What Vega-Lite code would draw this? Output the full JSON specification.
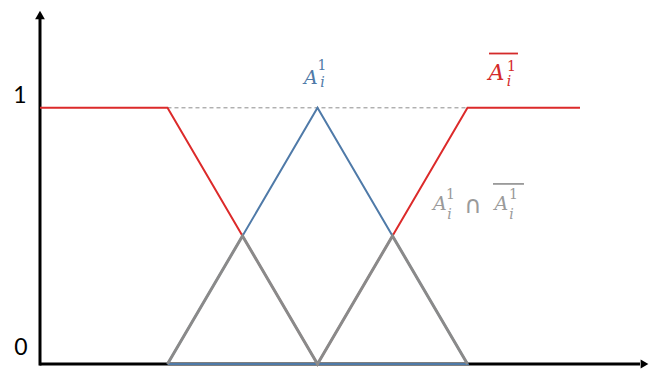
{
  "$schema": "https://vega.github.io/schema/vega-lite/v6.json",
  "width": 651,
  "height": 371,
  "autosize": {"type": "fit", "contains": "padding"},
  "padding": 0,
  "background": "white",
  "config": {"view": {"stroke": null}},
  "datasets": {
    "axes": [
      {"x": 0, "y": -0.006, "x2": 0, "y2": 1.35},
      {"x": -0.006, "y": 0, "x2": 8.0, "y2": 0}
    ],
    "arrows": [
      {"dir": "up", "x": 0, "y": 1.362},
      {"dir": "right", "x": 8.06, "y": 0}
    ],
    "ticks": [
      {"label": "1", "x": -0.267, "y": 1.046},
      {"label": "0", "x": -0.253, "y": 0.062}
    ],
    "membership": [
      {"set": "A", "o": 1, "x": 1.7, "y": 0},
      {"set": "A", "o": 2, "x": 3.7, "y": 1},
      {"set": "A", "o": 3, "x": 5.7, "y": 0},
      {"set": "A", "o": 4, "x": 1.7, "y": 0},
      {"set": "notA", "o": 1, "x": 0, "y": 1},
      {"set": "notA", "o": 2, "x": 1.7, "y": 1},
      {"set": "notA", "o": 3, "x": 3.7, "y": 0},
      {"set": "notA", "o": 4, "x": 5.7, "y": 1},
      {"set": "notA", "o": 5, "x": 7.2, "y": 1},
      {"set": "AnotA", "o": 1, "x": 1.7, "y": 0},
      {"set": "AnotA", "o": 2, "x": 2.7, "y": 0.5},
      {"set": "AnotA", "o": 3, "x": 3.7, "y": 0},
      {"set": "AnotA", "o": 4, "x": 4.7, "y": 0.5},
      {"set": "AnotA", "o": 5, "x": 5.7, "y": 0}
    ],
    "guide": [
      {"x": 1.7, "y": 1},
      {"x": 5.7, "y": 1}
    ],
    "bars": [
      {"set": "notA", "x": 5.987, "y": 1.212, "x2": 6.373, "y2": 1.212},
      {"set": "AnotA", "x": 6.04, "y": 0.703, "x2": 6.453, "y2": 0.703}
    ],
    "glyphs": [
      {"set": "A", "kind": "base", "label": "A", "x": 3.613, "y": 1.118},
      {"set": "A", "kind": "sup", "label": "1", "x": 3.76, "y": 1.162},
      {"set": "A", "kind": "sub", "label": "i", "x": 3.767, "y": 1.095},
      {"set": "notA", "kind": "bigbase", "label": "A", "x": 6.087, "y": 1.137},
      {"set": "notA", "kind": "sup", "label": "1", "x": 6.287, "y": 1.158},
      {"set": "notA", "kind": "sub", "label": "i", "x": 6.253, "y": 1.102},
      {"set": "AnotA", "kind": "base", "label": "A", "x": 5.333, "y": 0.624},
      {"set": "AnotA", "kind": "sup", "label": "1", "x": 5.473, "y": 0.658},
      {"set": "AnotA", "kind": "sub", "label": "i", "x": 5.46, "y": 0.583},
      {"set": "AnotA", "kind": "op", "label": "∩", "x": 5.773, "y": 0.618},
      {"set": "AnotA", "kind": "base", "label": "A", "x": 6.153, "y": 0.624},
      {"set": "AnotA", "kind": "sup", "label": "1", "x": 6.313, "y": 0.658},
      {"set": "AnotA", "kind": "sub", "label": "i", "x": 6.287, "y": 0.583}
    ]
  },
  "encoding": {
    "x": {"field": "x", "type": "quantitative", "axis": null,
          "scale": {"domain": [-0.5333, 8.1467], "nice": false, "zero": false}},
    "y": {"field": "y", "type": "quantitative", "axis": null,
          "scale": {"domain": [-0.01158, 1.42085], "nice": false, "zero": false}}
  },
  "layer": [
    {
      "data": {"name": "guide"},
      "mark": {"type": "line", "stroke": "#8c8c8c", "strokeWidth": 1, "strokeDash": [4, 3]},
      "encoding": {}
    },
    {
      "data": {"name": "axes"},
      "mark": {"type": "rule", "stroke": "black", "strokeWidth": 3},
      "encoding": {"x2": {"field": "x2"}, "y2": {"field": "y2"}}
    },
    {
      "data": {"name": "arrows"},
      "transform": [{"filter": "datum.dir === 'up'"}],
      "mark": {"type": "point", "shape": "triangle-up", "filled": true, "color": "black", "size": 95, "opacity": 1}
    },
    {
      "data": {"name": "arrows"},
      "transform": [{"filter": "datum.dir === 'right'"}],
      "mark": {"type": "point", "shape": "triangle-right", "filled": true, "color": "black", "size": 80, "opacity": 1}
    },
    {
      "data": {"name": "ticks"},
      "mark": {"type": "text", "font": "Lato", "size": 23, "color": "black", "align": "center", "baseline": "middle"},
      "encoding": {"text": {"field": "label"}}
    },
    {
      "data": {"name": "membership"},
      "transform": [{"filter": "datum.set === 'A'"}],
      "mark": {"type": "line", "stroke": "#4f7aa8", "strokeWidth": 2},
      "encoding": {"order": {"field": "o"}}
    },
    {
      "data": {"name": "membership"},
      "transform": [{"filter": "datum.set === 'notA'"}],
      "mark": {"type": "line", "stroke": "#dc2a2a", "strokeWidth": 2},
      "encoding": {"order": {"field": "o"}}
    },
    {
      "data": {"name": "membership"},
      "transform": [{"filter": "datum.set === 'AnotA'"}],
      "mark": {"type": "line", "stroke": "#8a8a8a", "strokeWidth": 3},
      "encoding": {"order": {"field": "o"}}
    },
    {
      "data": {"name": "bars"},
      "mark": {"type": "rule", "strokeWidth": 1.8},
      "encoding": {
        "x2": {"field": "x2"}, "y2": {"field": "y2"},
        "color": {"field": "set", "type": "nominal", "legend": null,
                  "scale": {"domain": ["A", "notA", "AnotA"], "range": ["#4f7aa8", "#d42a2a", "#9a9a9a"]}}
      }
    },
    {
      "data": {"name": "glyphs"},
      "transform": [{"filter": "datum.kind === 'base'"}],
      "mark": {"type": "text", "font": "DejaVu Serif", "fontStyle": "italic", "size": 19, "align": "center", "baseline": "middle"},
      "encoding": {
        "text": {"field": "label"},
        "color": {"field": "set", "type": "nominal", "legend": null}
      }
    },
    {
      "data": {"name": "glyphs"},
      "transform": [{"filter": "datum.kind === 'bigbase'"}],
      "mark": {"type": "text", "font": "DejaVu Serif", "fontStyle": "italic", "size": 22, "align": "center", "baseline": "middle"},
      "encoding": {
        "text": {"field": "label"},
        "color": {"field": "set", "type": "nominal", "legend": null}
      }
    },
    {
      "data": {"name": "glyphs"},
      "transform": [{"filter": "datum.kind === 'sub'"}],
      "mark": {"type": "text", "font": "DejaVu Serif", "fontStyle": "italic", "size": 14, "align": "center", "baseline": "middle"},
      "encoding": {
        "text": {"field": "label"},
        "color": {"field": "set", "type": "nominal", "legend": null}
      }
    },
    {
      "data": {"name": "glyphs"},
      "transform": [{"filter": "datum.kind === 'sup'"}],
      "mark": {"type": "text", "font": "DejaVu Serif", "size": 14, "align": "center", "baseline": "middle"},
      "encoding": {
        "text": {"field": "label"},
        "color": {"field": "set", "type": "nominal", "legend": null}
      }
    },
    {
      "data": {"name": "glyphs"},
      "transform": [{"filter": "datum.kind === 'op'"}],
      "mark": {"type": "text", "font": "DejaVu Sans", "size": 24, "align": "center", "baseline": "middle"},
      "encoding": {
        "text": {"field": "label"},
        "color": {"field": "set", "type": "nominal", "legend": null}
      }
    }
  ]
}
